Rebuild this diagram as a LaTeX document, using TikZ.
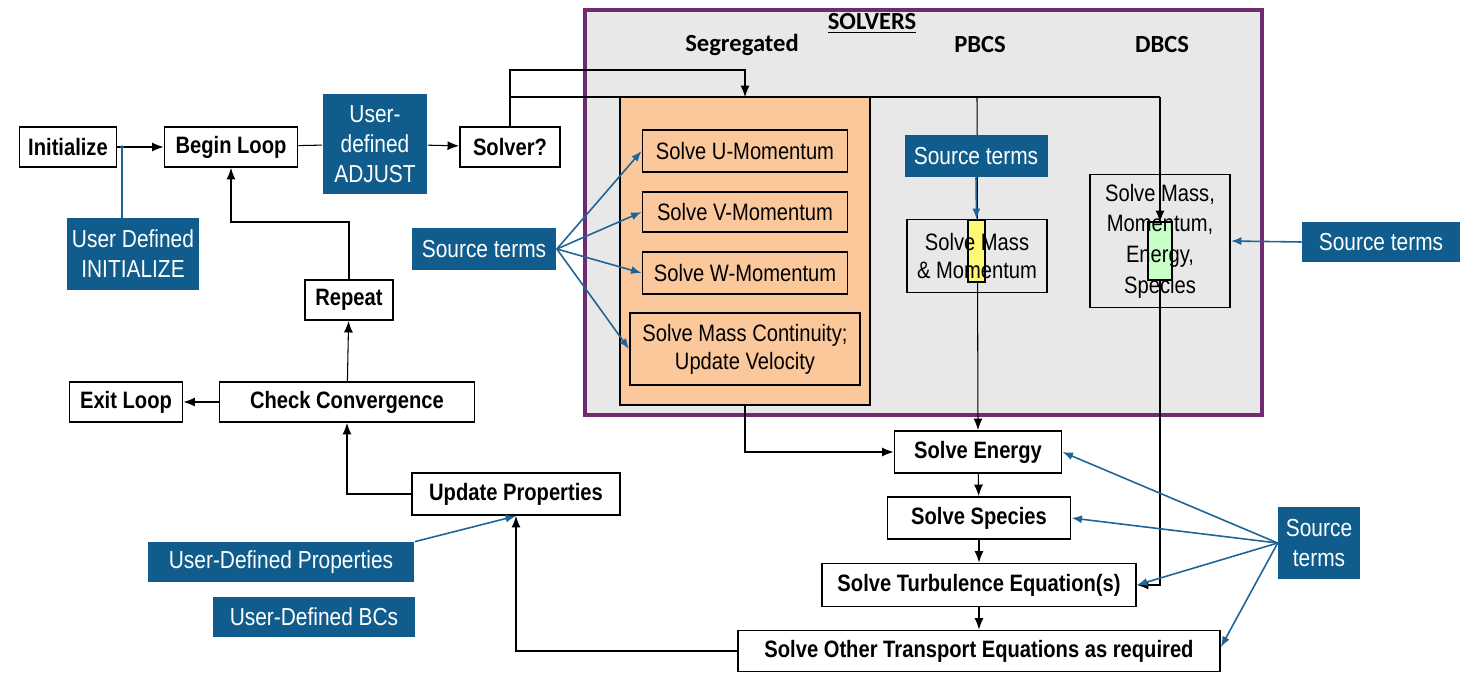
\documentclass[tikz,border=0pt]{standalone}
\usepackage{fontspec}
\setmainfont{Liberation Sans}[FakeStretch=0.85]
\newfontfamily\headfont{Carlito}
\usepackage{tikz}
\usetikzlibrary{arrows.meta}
\usepackage{xcolor}
\definecolor{userblue}{RGB}{16,92,140}
\definecolor{linkblue}{RGB}{30,100,150}
\definecolor{segorange}{RGB}{251,200,155}
\definecolor{framepurple}{RGB}{112,42,112}
\definecolor{framegray}{RGB}{232,232,232}
\tikzset{
	stepbox/.style={draw,line width=1.1pt,fill=white,inner sep=1pt,
		font=\bfseries\fontsize{13.5}{15}\selectfont},
	solvebox/.style={draw,line width=1.1pt,inner sep=1pt,align=center,
		font=\fontsize{13.5}{16}\selectfont},
	userbox/.style={fill=userblue,text=white,inner sep=1pt,align=center,
		font=\fontsize{14}{17}\selectfont},
	flow/.style={line width=0.6pt,-{Latex[length=2.3mm,width=1.8mm]}},
	line/.style={line width=0.6pt},
	feed/.style={line width=0.9pt,color=linkblue,-{Latex[length=2.1mm,width=1.6mm]}},
	head/.style={font=\headfont\bfseries\fontsize{14}{16}\selectfont},
}
\begin{document}
\begin{tikzpicture}[x=0.02cm,y=-0.02cm]
			\useasboundingbox (0,0) rectangle (1460,673);
			\draw[line width=1.8pt,draw=framepurple,fill=framegray] (585,10) rectangle (1262,415);
			\node[head] (solvers) at (872,23) {\underline{SOLVERS}};
			\node[head] (hseg) at (742,45) {Segregated};
			\node[head] (hpbcs) at (980,45) {PBCS};
			\node[head] (hdbcs) at (1162,45) {DBCS};
			%
			\node[stepbox,minimum width=1.94cm,minimum height=0.8cm] (init) at (68,147) {Initialize};
			\node[stepbox,minimum width=2.66cm,minimum height=0.8cm] (begin) at (231,147) {Begin Loop};
			\node[userbox,minimum width=2.1cm,minimum height=2.0cm] (adjust) at (375,144) {User-\\defined\\ADJUST};
			\node[stepbox,minimum width=2.0cm,minimum height=0.8cm] (solver) at (510,147) {Solver?};
			\node[userbox,minimum width=2.66cm,minimum height=1.44cm] (udinit) at (133,254) {User Defined\\INITIALIZE};
			\node[stepbox,minimum width=1.76cm,minimum height=0.8cm] (rep) at (349,300) {Repeat};
			\node[stepbox,minimum width=5.1cm,minimum height=0.8cm] (check) at (347,402) {Check Convergence};
			\node[stepbox,minimum width=2.26cm,minimum height=0.8cm] (exit) at (126,402) {Exit Loop};
			\node[stepbox,minimum width=4.16cm,minimum height=0.84cm] (update) at (516,494) {Update Properties};
			\node[userbox,minimum width=5.34cm,minimum height=0.8cm] (udprop) at (281,562) {User-Defined Properties};
			\node[userbox,minimum width=4.04cm,minimum height=0.8cm] (udbc) at (314,617) {User-Defined BCs};
			\node[userbox,minimum width=2.9cm,minimum height=0.84cm] (srcleft) at (484,249) {Source terms};
			%
			\node[stepbox,minimum width=3.34cm,minimum height=0.84cm] (energy) at (978,452) {Solve Energy};
			\node[stepbox,minimum width=3.66cm,minimum height=0.84cm] (species) at (979,518) {Solve Species};
			\node[stepbox,minimum width=6.28cm,minimum height=0.86cm] (turb) at (979,585) {Solve Turbulence Equation(s)};
			\node[stepbox,minimum width=9.64cm,minimum height=0.82cm] (other) at (979,651) {Solve Other Transport Equations as required};
			\node[userbox,minimum width=1.64cm,minimum height=1.44cm] (srcbot) at (1319,543) {Source\\terms};
			%
			\coordinate (split) at (510,97);
			\coordinate (top) at (510,70);
			\coordinate (pline) at (977,97);
			\coordinate (dline) at (1160,97);
			\draw[flow] (solver.north) -- (top) -| (745,97);
			\draw[line] (split) -- (dline);
			\draw[flow] (pline) -- (energy.north);
			\draw[flow] (dline) -- (1160,222);
			\draw[flow] (1160,280) |- (turb.east);
			%
			\node[draw,line width=1.1pt,fill=segorange,minimum width=5.0cm,minimum height=6.16cm] (seg) at (745,251) {};
			\node[solvebox,fill=segorange,minimum width=4.1cm,minimum height=0.84cm] (umom) at (745,151) {Solve U-Momentum};
			\node[solvebox,fill=segorange,minimum width=4.1cm,minimum height=0.8cm] (vmom) at (745,212) {Solve V-Momentum};
			\node[solvebox,fill=segorange,minimum width=4.1cm,minimum height=0.84cm] (wmom) at (745,273) {Solve W-Momentum};
			\node[solvebox,fill=segorange,minimum width=4.6cm,minimum height=1.44cm] (mass) at (745,349) {Solve Mass Continuity;\\Update Velocity};
			\node[draw,line width=1.1pt,fill=yellow!55,minimum width=0.34cm,minimum height=1.24cm,inner sep=0] (yel) at (976.5,251) {};
			\node[draw,line width=1.1pt,fill=green!22,minimum width=0.48cm,minimum height=1.16cm,inner sep=0] (grn) at (1160,251) {};
			\node[solvebox,minimum width=2.8cm,minimum height=1.46cm] (pbcs) at (977,256) {Solve Mass\\\& Momentum};
			\node[solvebox,minimum width=2.8cm,minimum height=2.66cm,font=\fontsize{13.5}{17.5}\selectfont] (dbcs) at (1160,241) {Solve Mass,\\Momentum,\\Energy,\\Species};
			\node[userbox,minimum width=2.86cm,minimum height=0.84cm] (srcpbcs) at (976,156) {Source terms};
			\node[userbox,minimum width=3.16cm,minimum height=0.8cm] (srcright) at (1381,242) {Source terms};
			%
			\draw[flow] (init) -- (begin);
			\draw[line] (begin) -- (adjust);
			\draw[flow] (adjust) -- (solver);
			\draw[flow] (seg.south) |- (energy.west);
			\draw[flow] (energy) -- (species);
			\draw[flow] (species) -- (turb);
			\draw[flow] (turb) -- (other);
			\draw[flow] (other.west) -| (update.south);
			\draw[flow] (update.west) -| (check.south);
			\draw[flow] (check) -- (exit);
			\draw[flow] (check) -- (rep);
			\draw[flow] (rep.north) -- (349,222) -| (begin.south);
			%
			\coordinate (initdot) at (122,147);
			\draw[line width=0.9pt,color=linkblue] (udinit.north -| initdot) -- (initdot);
			\fill[linkblue] (initdot) circle (1.8);
			\foreach \Ziel in {umom, vmom, wmom}
				\draw[feed] (srcleft.east) -- (\Ziel.west);
			\draw[feed] (srcleft.east) -- (mass.west);
			\draw[feed] (srcpbcs.south) -- (yel.north);
			\draw[feed] (srcright.west) -- (dbcs.east);
			\foreach \Ziel in {energy, species, turb}
				\draw[feed] (srcbot.west) -- (\Ziel.east);
			\draw[feed] (srcbot.west) -- ([yshift=0.08cm]other.east);
			\draw[feed] (udprop.north east) -- (update.south);
		\end{tikzpicture}
\end{document}
